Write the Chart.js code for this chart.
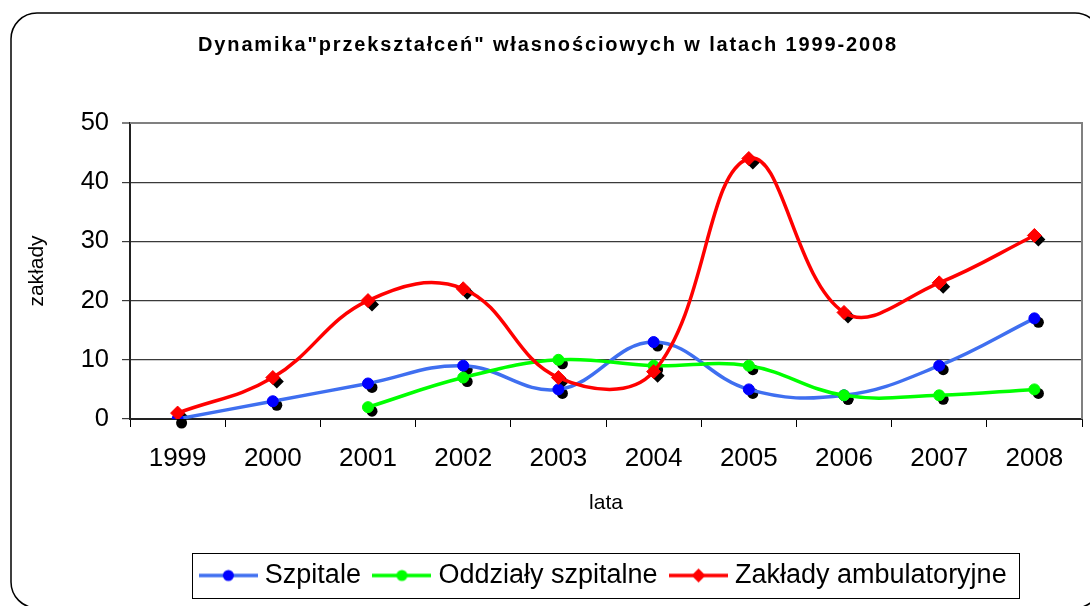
<!DOCTYPE html>
<html>
<head>
<meta charset="utf-8">
<script src="https://cdn.jsdelivr.net/npm/chart.js@4"></script>
<style>
  body { margin: 0; background: #fff; }
  canvas { display: block; }
</style>
</head>
<body>
<canvas id="chart" width="1090" height="606"></canvas>
<script>
// ===== Data =====
const years = ['1999', '2000', '2001', '2002', '2003', '2004', '2005', '2006', '2007', '2008'];
const szpitale = [0, 3, 6, 9, 5, 13, 5, 4, 9, 17];
const oddzialy = [null, null, 2, 7, 10, 9, 9, 4, 4, 5];
const zaklady = [1, 7, 20, 22, 7, 8, 44, 18, 23, 31];
const yTicks = [0, 10, 20, 30, 40, 50];

const TITLE = 'Dynamika"przekształceń" własnościowych w latach 1999-2008';
const FONT = 'Arial, "Liberation Sans", sans-serif';

// title letter spacing so the line spans ~700px like the Excel original
const measure = document.createElement('canvas').getContext('2d');
measure.font = 'bold 20px ' + FONT;
const titleSpacing = Math.max(0, (700 - measure.measureText(TITLE).width) / TITLE.length);

// ===== Legend icons (line + marker) =====
function legendIcon(lineColor, markerColor, style, radius) {
  const c = document.createElement('canvas');
  c.width = 59; c.height = 16;
  const ctx = c.getContext('2d');
  ctx.strokeStyle = lineColor;
  ctx.lineWidth = 3.5;
  ctx.beginPath(); ctx.moveTo(0, 8); ctx.lineTo(59, 8); ctx.stroke();
  ctx.fillStyle = markerColor;
  Chart.helpers.drawPoint(ctx, { pointStyle: style, radius: radius, rotation: 0, borderWidth: 0 }, 29.5, 8);
  return c;
}
const icons = [
  legendIcon('#3f6ff0', '#0000ff', 'circle', 5.5),
  legendIcon('#00ff00', '#00ff00', 'circle', 5.5),
  legendIcon('#ff0000', '#ff0000', 'rectRot', 7)
];

// ===== Plugins =====
const frame = {
  id: 'frame',
  beforeDraw(chart) {
    const ctx = chart.ctx;
    // letter spacing for the title only
    const tb = chart.titleBlock;
    if (tb && !tb._spaced) {
      const orig = tb.draw.bind(tb);
      tb.draw = function (area) {
        ctx.save();
        ctx.letterSpacing = titleSpacing + 'px';
        orig(area);
        ctx.restore();
      };
      tb._spaced = true;
    }
    ctx.save();
    ctx.fillStyle = '#fff';
    ctx.fillRect(0, 0, chart.width, chart.height);
    ctx.strokeStyle = '#000';
    ctx.lineWidth = 1.5;
    ctx.beginPath();
    ctx.roundRect(11, 13, 1090, 595, 26);
    ctx.stroke();
    ctx.restore();
  },
  beforeDatasetsDraw(chart) {
    const { ctx, chartArea: a } = chart;
    ctx.save();
    // plot area border (top + right)
    ctx.strokeStyle = '#808080';
    ctx.lineWidth = 2;
    ctx.beginPath();
    ctx.moveTo(a.left, a.top);
    ctx.lineTo(a.right, a.top);
    ctx.lineTo(a.right, a.bottom);
    ctx.stroke();
    // black marker shadows
    ctx.fillStyle = '#000';
    chart.data.datasets.forEach((ds, i) => {
      const meta = chart.getDatasetMeta(i);
      meta.data.forEach((pt, j) => {
        if (ds.data[j] === null) return;
        Chart.helpers.drawPoint(ctx, {
          pointStyle: ds.pointStyle, radius: ds.pointRadius, rotation: 0, borderWidth: 0
        }, pt.x + 4, pt.y + 4);
      });
    });
    ctx.restore();
  },
  afterDraw(chart) {
    const boxes = chart.legend.legendHitBoxes;
    if (!boxes || !boxes.length) return;
    const first = boxes[0], last = boxes[boxes.length - 1];
    const ctx = chart.ctx;
    ctx.save();
    ctx.strokeStyle = '#000';
    ctx.lineWidth = 1;
    const l = first.left - 13.5, r = last.left + last.width + 12;
    const t = first.top - 9, b = first.top + first.height + 9;
    ctx.strokeRect(Math.round(l) + 0.5, Math.round(t) + 0.5, Math.round(r - l), Math.round(b - t));
    ctx.restore();
  }
};

// ===== Chart =====
new Chart(document.getElementById('chart'), {
  type: 'line',
  data: {
    labels: years,
    datasets: [
      {
        label: 'Szpitale', data: szpitale, order: 2,
        borderColor: '#3f6ff0', backgroundColor: '#0000ff',
        pointStyle: 'circle', pointRadius: 5.5,
        pointBackgroundColor: '#0000ff', pointBorderColor: '#0000ff', pointBorderWidth: 1
      },
      {
        label: 'Oddziały szpitalne', data: oddzialy, order: 1,
        borderColor: '#00ff00', backgroundColor: '#00ff00',
        pointStyle: 'circle', pointRadius: 5.5,
        pointBackgroundColor: '#00ff00', pointBorderColor: '#00ff00', pointBorderWidth: 1
      },
      {
        label: 'Zakłady ambulatoryjne', data: zaklady, order: 0,
        borderColor: '#ff0000', backgroundColor: '#ff0000',
        pointStyle: 'rectRot', pointRadius: 7,
        pointBackgroundColor: '#ff0000', pointBorderColor: '#ff0000', pointBorderWidth: 1
      }
    ]
  },
  options: {
    responsive: false,
    animation: false,
    layout: { padding: { left: 14, right: 8, top: 0, bottom: 7 } },
    elements: {
      line: { borderWidth: 3.5, tension: 0.4, fill: false },
      point: { hoverRadius: 7 }
    },
    scales: {
      x: {
        offset: true,
        afterFit(scale) { scale.height = 125; },
        grid: {
          offset: true, drawOnChartArea: false, drawTicks: true,
          tickLength: 8, color: '#000', lineWidth: 1
        },
        border: { color: '#222', width: 2 },
        ticks: {
          color: '#000', padding: 16, maxRotation: 0,
          font: { family: FONT, size: 26 }
        },
        title: {
          display: true, text: 'lata', color: '#000',
          font: { family: FONT, size: 21 },
          padding: { top: 0, bottom: 28 }
        }
      },
      y: {
        min: 0, max: 50,
        afterFit(scale) { scale.width = 116; },
        afterBuildTicks(scale) { scale.ticks = yTicks.map(v => ({ value: v })); },
        grid: {
          color: ctx => (ctx.tick && ctx.tick.value === 50 ? '#808080' : '#3a3a3a'),
          lineWidth: ctx => (ctx.tick && ctx.tick.value === 50 ? 2 : 1.2),
          tickLength: 8, drawTicks: true
        },
        border: { color: '#222', width: 2 },
        ticks: {
          color: '#000', padding: 13,
          font: { family: FONT, size: 25.5 }
        },
        title: {
          display: true, text: 'zakłady', color: '#000',
          font: { family: FONT, size: 21 },
          padding: { top: 11, bottom: 0 }
        }
      }
    },
    plugins: {
      title: {
        display: true, text: TITLE, color: '#000',
        font: { family: FONT, size: 20, weight: 'bold' },
        padding: { top: 33, bottom: 66 }
      },
      legend: {
        position: 'bottom',
        fullSize: false,
        labels: {
          usePointStyle: true,
          pointStyleWidth: 46,
          padding: 18,
          color: '#000',
          font: { family: FONT, size: 27 },
          sort: (a, b) => a.datasetIndex - b.datasetIndex,
          generateLabels(chart) {
            return Chart.defaults.plugins.legend.labels.generateLabels(chart)
              .map(l => Object.assign(l, { pointStyle: icons[l.datasetIndex] }));
          }
        }
      },
      tooltip: { enabled: false }
    }
  },
  plugins: [frame]
});
</script>
</body>
</html>
